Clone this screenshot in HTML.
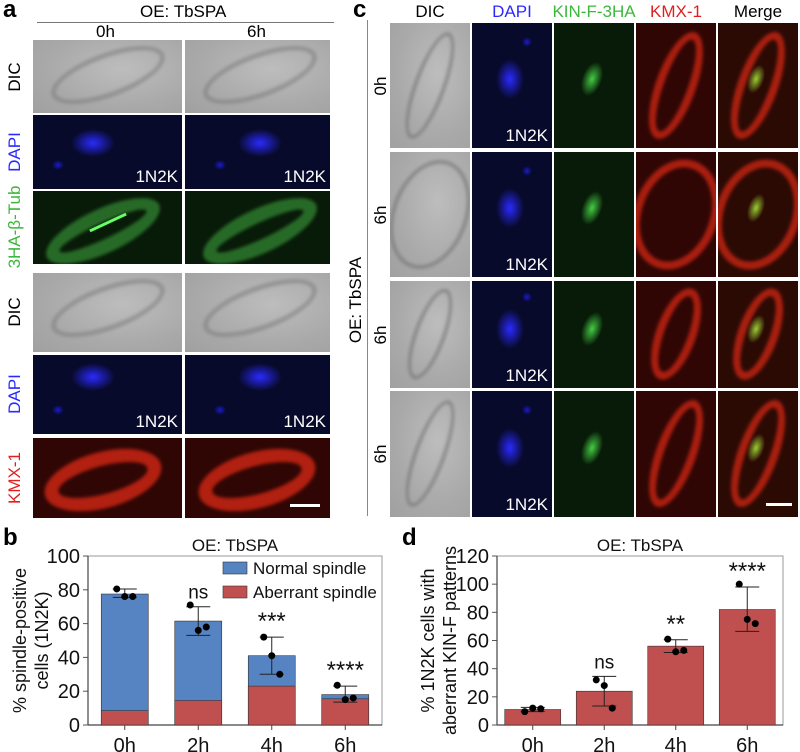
<!DOCTYPE html>
<html><head><meta charset="utf-8"><style>
body{margin:0;width:800px;height:752px;background:#fff;position:relative;overflow:hidden;font-family:"Liberation Sans",sans-serif}
.abs{position:absolute}
.cell{position:absolute;overflow:hidden}
.dic{background:radial-gradient(ellipse at 60% 40%,#bdbdbd,#a9a9a9 60%,#a0a0a0)}
.dapi{background:#080a2c}
.grn{background:#081a08}
.red{background:#300604}
.mrg{background:#2c0a04}
.lbl{position:absolute;font-size:17px;white-space:nowrap}
.rot{transform:translate(-50%,-50%) rotate(-90deg);transform-origin:center}
.tag{position:absolute;color:#fff;font-size:17px;right:4px;bottom:2px}
.pl{position:absolute;font-weight:bold;font-size:24px}
</style></head><body>
<div class="pl" style="left:3px;top:-4px">a</div>
<div class="pl" style="left:353px;top:-4px">c</div>
<div class="pl" style="left:3px;top:524px">b</div>
<div class="pl" style="left:402px;top:524px">d</div>

<div class="lbl" style="left:140px;top:2px">OE: TbSPA</div>
<div class="abs" style="left:37px;top:22px;width:297px;height:1px;background:#777"></div>
<div class="lbl" style="left:96px;top:22px">0h</div>
<div class="lbl" style="left:247px;top:22px">6h</div>

<div id="imgs"></div>

<div class="abs" style="left:367px;top:20px;width:1px;height:496px;background:#888"></div>
<div class="lbl rot" style="left:356px;top:300px">OE: TbSPA</div>

<svg class="abs" style="left:0;top:530px" width="400" height="222" id="svgb"></svg>
<svg class="abs" style="left:400px;top:530px" width="400" height="222" id="svgd"></svg>

<script>
// ---------- chart data (b) ----------
const catsB = ["0h","2h","4h","6h"];
const totalB = [77.5,61.5,41,18];
const aberrB = [8.5,14.5,23,15.5];
const errHiB = [80.5,70,52,23];
const errLoB = [75.5,53,30,13.5];
const ptsB = [[80.5,76,76],[71,56,58],[52,41,30],[23.5,15,16]];
const sigB = ["","ns","***","****"];
const ticksB = [0,20,40,60,80,100];
// ---------- chart data (d) ----------
const catsD = ["0h","2h","4h","6h"];
const meanD = [11,24,56,82];
const errHiD = [12.5,34.5,60.5,98];
const errLoD = [9.5,13.5,51.5,66.5];
const ptsD = [[9.5,12,11.5],[32,28,12],[61,52,53],[100,75,72]];
const sigD = ["","ns","**","****"];
const ticksD = [0,20,40,60,80,100,120];

const NS="http://www.w3.org/2000/svg";
function mk(svg,tag,attrs,txt){const e=document.createElementNS(NS,tag);for(const k in attrs)e.setAttribute(k,attrs[k]);if(txt!==undefined)e.textContent=txt;svg.appendChild(e);return e;}

// ---------- microscopy panels ----------
const imgs=document.getElementById('imgs');
function cell(x,y,w,h,cls,name,inner){const d=document.createElement('div');d.className='cell '+cls;d.style.left=x+'px';d.style.top=y+'px';d.style.width=w+'px';d.style.height=h+'px';d.innerHTML=inner||'';


imgs.appendChild(d);return d;}
function blob(cx,cy,rx,ry,col,rot){return `<div style="position:absolute;left:${cx-rx}px;top:${cy-ry}px;width:${rx*2}px;height:${ry*2}px;border-radius:50%;background:radial-gradient(${col},transparent 70%);transform:rotate(${rot||0}deg)"></div>`;}
function ring(cx,cy,rx,ry,col,rot,bw){return `<div style="position:absolute;left:${cx-rx}px;top:${cy-ry}px;width:${rx*2}px;height:${ry*2}px;border-radius:50%;border:${bw||6}px solid ${col};box-sizing:border-box;filter:blur(1.5px);transform:rotate(${rot||0}deg)"></div>`;}
function lab(txt,x,y,col,name){const d=document.createElement('div');d.className='lbl rot';d.style.left=x+'px';d.style.top=y+'px';d.style.color=col;d.textContent=txt;


imgs.appendChild(d);}
const tag='<div class="tag">1N2K</div>';
// panel a
const aCols=[[33,149],[185,145]];
const aRows=[[40,73,'dic'],[115,74,'dapi'],[191,73,'grn'],[273,79,'dic'],[355,79,'dapi'],[438,80,'red']];
aRows.forEach((r,ri)=>{aCols.forEach((c,ci)=>{let inner='';
 if(r[2]=='dapi'){inner=blob(ci?75:60, ri<3?28:22, 22,14,'#2a2aff')+blob(ci?35:25,ri<3?50:55,6,5,'#1a1ad0')+tag;}
 if(r[2]=='grn'){inner=ring(ci?75:70,40,62,22,'rgba(60,160,60,0.6)',-25,14)+(ci?'':'<div style="position:absolute;left:55px;top:30px;width:40px;height:3px;background:#6f6;transform:rotate(-25deg)"></div>');}
 if(r[2]=='red'){inner=ring(ci?72:70,42,60,28,'rgba(220,40,20,0.75)',-15,14)+(ci?'<div style="position:absolute;left:105px;top:66px;width:30px;height:3px;background:#fff"></div>':'');}
 if(r[2]=='dic'){inner=ring(75,35,60,22,'rgba(120,120,120,0.5)',-20,5);}
 cell(c[0],r[0],c[1],r[1],r[2],'panel-a-'+r[2]+'-r'+ri+'-c'+ci,inner);});});
lab('DIC',15,77,'#000','row-label-dic-1');
lab('DAPI',15,152,'#2a2aff','row-label-dapi-1');
lab('3HA-β-Tub',15,227,'#3cb83c','row-label-tub');
lab('DIC',15,312,'#000','row-label-dic-2');
lab('DAPI',15,394,'#2a2aff','row-label-dapi-2');
lab('KMX-1',15,478,'#e02020','row-label-kmx');
// panel c
const cCols=[[390,80,'dic'],[472,80,'dapi'],[554,80,'grn'],[636,80,'red'],[718,80,'mrg']];
const cRows=[[23,125,'0h'],[152,125,'6h'],[281,107,'6h'],[391,126,'6h']];
cRows.forEach((r,ri)=>{cCols.forEach((c,ci)=>{let inner='';const h=r[1];
 if(c[2]=='dapi'){inner=blob(38,h*0.45,14,20,'#2a2aff')+blob(55,h*0.15,5,5,'#1a1ad0')+tag;}
 if(c[2]=='grn'){inner=blob(38,h*0.45,10,18,'#4c4',20);}
 if(c[2]=='red'||c[2]=='mrg'){inner=ring(40,h*0.5,ri==1?42:20,h*0.45,'rgba(220,40,20,0.7)',20,8)+(c[2]=='mrg'?blob(38,h*0.45,8,15,'#9c3',20):'');}
 if(c[2]=='dic'){inner=ring(40,h*0.5,ri==1?38:16,h*0.45,'rgba(110,110,110,0.55)',20,4);}
 if(ri==3&&ci==4)inner+='<div style="position:absolute;left:48px;top:112px;width:26px;height:3px;background:#fff"></div>';
 cell(c[0],r[0],c[1],r[1],c[2],'panel-c-'+c[2]+'-r'+ri,inner);});
 lab(r[2],381,r[0]+r[1]/2,'#000','panel-c-row-label-'+ri);});
const hdr=[['DIC',430,'#000'],['DAPI',512,'#2a2aff'],['KIN-F-3HA',594,'#3cb83c'],['KMX-1',676,'#e02020'],['Merge',758,'#000']];
hdr.forEach(h=>{const d=document.createElement('div');d.className='lbl';d.style.left=h[1]+'px';d.style.top='2px';d.style.transform='translateX(-50%)';d.style.color=h[2];d.textContent=h[0];


imgs.appendChild(d);});

// ---------- chart drawing ----------
const BLUE="#5683c2", RED="#c0504f";
function drawChart(svg,o){
 const y=v=>o.y0-(v/o.max)*(o.y0-o.ytop);
 const n=o.cats.length, step=(o.x1-o.x0)/n;
 const xc=i=>o.x0+step*(i+0.5);
 mk(svg,'rect',{x:o.x0,y:o.ytop,width:o.x1-o.x0,height:o.y0-o.ytop,fill:'none',stroke:'#999','stroke-width':1});
 o.ticks.forEach(t=>{mk(svg,'line',{x1:o.x0-5,x2:o.x0,y1:y(t),y2:y(t),stroke:'#555'});
  const tx=mk(svg,'text',{x:o.x0-8,y:y(t)+7,'text-anchor':'end','font-size':20,fill:'#111'},t);
  
  });
 mk(svg,'line',{x1:o.x0,x2:o.x0,y1:o.ytop,y2:o.y0,stroke:'#444','stroke-width':1.2});
 mk(svg,'line',{x1:o.x0,x2:o.x1,y1:o.y0,y2:o.y0,stroke:'#444','stroke-width':1.2});
 o.cats.forEach((c,i)=>{
  const bx=xc(i)-o.bw/2;
  if(o.stack){
   const b1=mk(svg,'rect',{x:bx,y:y(o.total[i]),width:o.bw,height:y(0)-y(o.total[i]),fill:BLUE,stroke:'#333','stroke-width':0.6});
   
   
   const b2=mk(svg,'rect',{x:bx,y:y(o.stack[i]),width:o.bw,height:y(0)-y(o.stack[i]),fill:RED,stroke:'#333','stroke-width':0.6});
   
   
  } else {
   const b=mk(svg,'rect',{x:bx,y:y(o.total[i]),width:o.bw,height:y(0)-y(o.total[i]),fill:RED,stroke:'#333','stroke-width':0.6});
   
   
  }
  mk(svg,'line',{x1:xc(i),x2:xc(i),y1:y(o.hi[i]),y2:y(o.lo[i]),stroke:'#222','stroke-width':1});
  mk(svg,'line',{x1:xc(i)-12,x2:xc(i)+12,y1:y(o.hi[i]),y2:y(o.hi[i]),stroke:'#222','stroke-width':1});
  mk(svg,'line',{x1:xc(i)-12,x2:xc(i)+12,y1:y(o.lo[i]),y2:y(o.lo[i]),stroke:'#222','stroke-width':1});
  o.pts[i].forEach((p,j)=>{const dot=mk(svg,'circle',{cx:xc(i)+(j-1)*8,cy:y(p),r:3.5,fill:'#000'});
   
   });
  if(o.sig[i]){const s=mk(svg,'text',{x:xc(i),y:y(o.hi[i])-8,'text-anchor':'middle','font-size':o.sig[i]=='ns'?19:24,fill:'#111'},o.sig[i]);
   
   }
  mk(svg,'line',{x1:xc(i),x2:xc(i),y1:o.y0,y2:o.y0+5,stroke:'#444'});
  const xl=mk(svg,'text',{x:xc(i),y:o.y0+27,'text-anchor':'middle','font-size':20,fill:'#111'},c);
  
  
 });
 const t=mk(svg,'text',{x:(o.x0+o.x1)/2,y:21,'text-anchor':'middle','font-size':17,fill:'#111'},'OE: TbSPA');
 
 
 o.ytitle.forEach((s,k)=>{const tt=mk(svg,'text',{x:0,y:0,'text-anchor':'middle','font-size':18,fill:'#111',transform:`translate(${o.ytx[k]},${(o.ytop+o.y0)/2}) rotate(-90)`},s);
  
  });
}
const svgb=document.getElementById('svgb');
drawChart(svgb,{cats:catsB,total:totalB,stack:aberrB,hi:errHiB,lo:errLoB,pts:ptsB,sig:sigB,ticks:ticksB,max:100,x0:88,x1:382,y0:195,ytop:26,bw:47,ytitle:["% spindle-positive","cells (1N2K)"],ytx:[26,48]});
const svgd=document.getElementById('svgd');
drawChart(svgd,{cats:catsD,total:meanD,hi:errHiD,lo:errLoD,pts:ptsD,sig:sigD,ticks:ticksD,max:120,x0:97,x1:383,y0:195,ytop:26,bw:56,ytitle:["% 1N2K cells with","aberrant KIN-F patterns"],ytx:[34,56]});
// legend b
const l1=mk(svgb,'rect',{x:223,y:32,width:24,height:12,fill:BLUE,stroke:'#333','stroke-width':0.6});


const lt1=mk(svgb,'text',{x:253,y:44,'font-size':17,fill:'#111'},'Normal spindle');


const l2=mk(svgb,'rect',{x:223,y:56,width:24,height:12,fill:RED,stroke:'#333','stroke-width':0.6});


const lt2=mk(svgb,'text',{x:253,y:68,'font-size':17,fill:'#111'},'Aberrant spindle');


</script>
</body></html>
